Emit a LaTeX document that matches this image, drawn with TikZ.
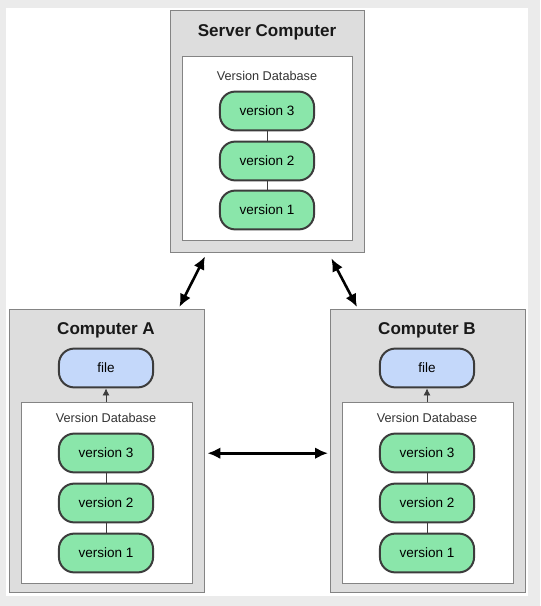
\documentclass[tikz,border=0pt]{standalone}
\usepackage{fontspec}
\setmainfont{Liberation Sans}
\usepackage{tikz}
\usetikzlibrary{positioning,arrows.meta,calc}

\definecolor{boxgray}{HTML}{DDDDDD}
\definecolor{edgegray}{HTML}{848484}
\definecolor{pillgreen}{HTML}{8AE6AA}
\definecolor{pillblue}{HTML}{C4D8FA}
\definecolor{pilledge}{HTML}{3C3C3C}
\definecolor{framegray}{HTML}{EBEBEB}

\begin{document}
\begin{tikzpicture}[
    x=0.85pt, y=-0.85pt,
    machine/.style={draw=edgegray, fill=boxgray, line width=1.2pt, anchor=north west},
    dbbox/.style={draw=edgegray, fill=white, line width=1pt, anchor=north west},
    boxtitle/.style={font=\bfseries\fontsize{14.5}{16}\selectfont, text=black!90},
    dblabel/.style={font=\fontsize{10.8}{12}\selectfont, text=black!80},
    version/.style={draw=pilledge, fill=pillgreen, line width=1.7pt, rounded corners=13pt,
        minimum width=80pt, minimum height=33pt, font=\fontsize{11.5}{13}\selectfont},
    wfile/.style={version, fill=pillblue},
    link/.style={line width=0.7pt, draw=pilledge},
    sync/.style={line width=2.2pt, {Latex[length=11pt,width=10pt]}-{Latex[length=11pt,width=10pt]}}
]
% frame
\fill[framegray] (0,0) rectangle (540,606);
\fill[white] (6,8) rectangle (528,596);
\useasboundingbox (0,0) rectangle (540,606);

% server
\node[machine, minimum width=194*0.85pt, minimum height=242*0.85pt] (server) at (170,10) {};
\node[boxtitle] (servertitle) at (267,32) {Server Computer};
\node[dbbox, minimum width=170*0.85pt, minimum height=184*0.85pt] (serverdb) at (182,56) {};
\node[dblabel] (serverdblabel) at (267,76) {Version Database};
\node[version] (sv3) at (267,111) {version 3};
\node[version] (sv2) at (267,161) {version 2};
\node[version] (sv1) at (267,210) {version 1};
\draw[link] (sv3) -- (sv2);
\draw[link] (sv2) -- (sv1);

% computer A
\node[machine, minimum width=195*0.85pt, minimum height=283*0.85pt] (compA) at (9,309) {};
\node[boxtitle] (compAtitle) at (106,330) {Computer A};
\node[wfile] (fileA) at (106,368) {file};
\node[dbbox, minimum width=171*0.85pt, minimum height=181*0.85pt] (dbA) at (21,402) {};
\node[dblabel] (dbAlabel) at (106,418) {Version Database};
\node[version] (av3) at (106,453) {version 3};
\node[version] (av2) at (106,503) {version 2};
\node[version] (av1) at (106,553) {version 1};
\draw[link] (av3) -- (av2);
\draw[link] (av2) -- (av1);
\draw[link, -{Latex[length=6pt,width=6pt]}] (dbA.north -| fileA) -- (fileA.south);

% computer B
\node[machine, minimum width=195*0.85pt, minimum height=283*0.85pt] (compB) at (330,309) {};
\node[boxtitle] (compBtitle) at (427,330) {Computer B};
\node[wfile] (fileB) at (427,368) {file};
\node[dbbox, minimum width=171*0.85pt, minimum height=181*0.85pt] (dbB) at (342,402) {};
\node[dblabel] (dbBlabel) at (427,418) {Version Database};
\node[version] (bv3) at (427,453) {version 3};
\node[version] (bv2) at (427,503) {version 2};
\node[version] (bv1) at (427,553) {version 1};
\draw[link] (bv3) -- (bv2);
\draw[link] (bv2) -- (bv1);
\draw[link, -{Latex[length=6pt,width=6pt]}] (dbB.north -| fileB) -- (fileB.south);

% sync arrows
\draw[sync] ($(server.south west)+(35,3)$) -- ($(compA.north east)+(-26,-2)$);
\draw[sync] ($(server.south east)+(-34,5)$) -- ($(compB.north west)+(27,-2)$);
\draw[sync] ($(compA.east)+(2,2)$) -- ($(compB.west)+(-2,2)$);
\end{tikzpicture}
\end{document}
